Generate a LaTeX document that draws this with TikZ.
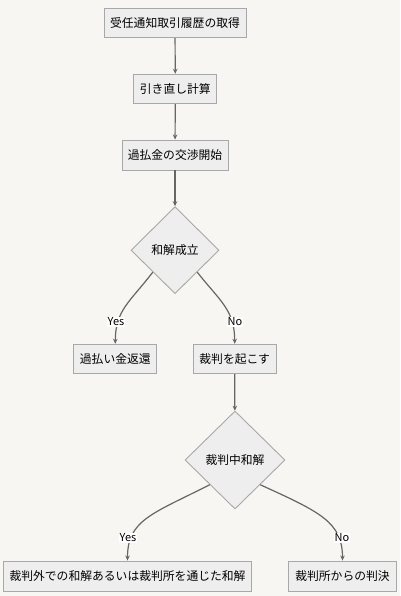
\documentclass[tikz,border=0pt]{standalone}
\usepackage{fontspec}
\setmainfont{Noto Sans CJK JP}
\usetikzlibrary{shapes.geometric,arrows.meta}
\definecolor{bgc}{HTML}{F7F6F3}
\definecolor{boxfill}{HTML}{EEEEEE}
\definecolor{boxline}{HTML}{A8A8A8}
\definecolor{linec}{HTML}{666666}
\tikzset{
  stepbox/.style={draw=boxline, fill=boxfill, line width=0.9pt, inner sep=0pt, minimum height=29.5pt,
    font=\fontsize{11.8}{14}\selectfont},
  decide/.style={diamond, draw=boxline, fill=boxfill, line width=0.9pt, inner sep=0pt,
    font=\fontsize{11.8}{14}\selectfont},
  conn/.style={draw=linec, line width=1.2pt, -{Stealth[length=5pt,width=4.5pt]}},
  lbl/.style={fill=white, inner sep=0.5pt, font=\fontsize{11}{13}\selectfont}
}
\begin{document}
\begin{tikzpicture}[x=1pt,y=-1pt]
\useasboundingbox[fill=bgc] (0,0) rectangle (400,596);
\node[stepbox, minimum width=142pt] (a) at (175,23) {受任通知取引履歴の取得};
\node[stepbox, minimum width=83pt] (b) at (175.3,89) {引き直し計算};
\node[stepbox, minimum width=106pt, minimum height=30pt] (c) at (175,155) {過払金の交渉開始};
\node[decide, minimum width=88pt, minimum height=87pt] (d1) at (175,250.2) {和解成立};
\node[stepbox, minimum width=83pt] (y1) at (115.3,359) {過払い金返還};
\node[stepbox, minimum width=83pt] (n1) at (234.7,359) {裁判を起こす};
\node[decide, minimum width=100pt, minimum height=98pt] (d2) at (235,460) {裁判中和解};
\node[stepbox, minimum width=248pt, minimum height=30pt] (y2) at (127.5,576) {裁判外での和解あるいは裁判所を通じた和解};
\node[stepbox, minimum width=108pt, minimum height=30pt] (n2) at (342.5,576) {裁判所からの判決};
\draw[conn] (a) -- (b);
\draw[conn] (b) -- (c);
\draw[conn] (c) -- (d1);
\draw[conn] (d1.south west) .. controls (130,302) and (115.3,310) .. (y1.north);
\draw[conn] (d1.south east) .. controls (220,301) and (234.7,310) .. (n1.north);
\draw[conn] (n1) -- (d2);
\draw[conn] (d2.south west) .. controls (152,514) and (127.5,520) .. (y2.north);
\draw[conn] (d2.south east) .. controls (320,512) and (342.5,522) .. (n2.north);
\node[lbl] (ly1) at (116,322) {Yes};
\node[lbl] (ln1) at (235,322) {No};
\node[lbl] (ly2) at (128,538) {Yes};
\node[lbl] (ln2) at (342,538) {No};
\end{tikzpicture}
\end{document}
